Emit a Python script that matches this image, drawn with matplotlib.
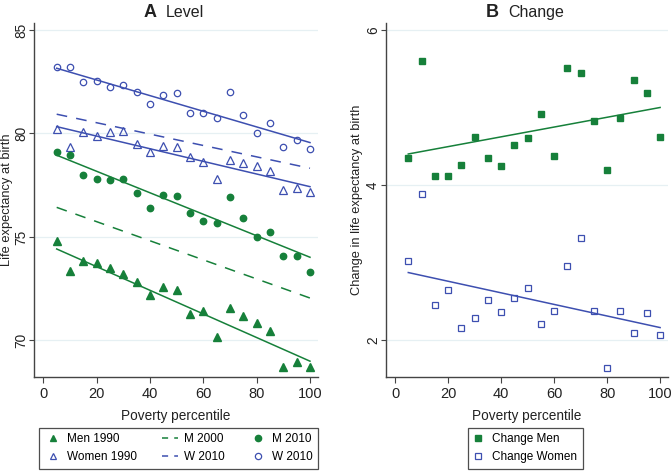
import numpy as np
import matplotlib
matplotlib.use("Agg")
from matplotlib import pyplot as plt
from matplotlib.lines import Line2D

plt.rcParams['font.family'] = ['Liberation Sans', 'DejaVu Sans']

# poverty percentiles
pct = [5, 10, 15, 20, 25, 30, 35, 40, 45, 50, 55, 60, 65, 70, 75, 80, 85, 90, 95, 100]

# panel A: life expectancy levels
men_1990 = [74.80, 73.37, 73.86, 73.74, 73.50, 73.21, 72.82, 72.20, 72.58, 72.42,
            71.27, 71.41, 70.18, 71.55, 71.16, 70.84, 70.44, 68.74, 68.94, 68.73]
women_1990 = [80.22, 79.36, 80.06, 79.90, 80.09, 80.14, 79.50, 79.11, 79.38, 79.33,
              78.85, 78.64, 77.80, 78.73, 78.57, 78.41, 78.17, 77.28, 77.38, 77.18]
men_2010 = [79.12, 78.96, 78.00, 77.82, 77.74, 77.80, 77.13, 76.42, 77.05, 77.00,
            76.14, 75.77, 75.66, 76.95, 75.93, 74.98, 75.26, 74.06, 74.10, 73.31]
women_2010 = [83.20, 83.22, 82.49, 82.52, 82.23, 82.36, 81.99, 81.43, 81.87, 81.94,
              81.00, 80.99, 80.73, 82.02, 80.91, 80.02, 80.52, 79.33, 79.69, 79.24]

# fitted lines (end points)
fit_x = [5, 100]
men_1990_fit = [74.42, 69.00]
women_1990_fit = [80.33, 77.43]
men_2000_fit = [76.43, 72.05]
women_2000_fit = [80.93, 78.32]
men_2010_fit = [78.95, 74.02]
women_2010_fit = [83.15, 79.56]

# panel B: change in life expectancy
change_men = [4.35, 5.60, 4.12, 4.12, 4.26, 4.62, 4.35, 4.25, 4.51, 4.61,
              4.92, 4.38, 5.51, 5.45, 4.82, 4.19, 4.86, 5.35, 5.19, 4.62]
change_women = [3.02, 3.88, 2.45, 2.65, 2.16, 2.28, 2.51, 2.36, 2.54, 2.67,
                2.21, 2.38, 2.96, 3.32, 2.38, 1.64, 2.38, 2.09, 2.35, 2.07]
change_men_fit = [4.40, 5.00]
change_women_fit = [2.87, 2.16]

green = '#16803a'
blue = '#3d4fb0'
grid_col = '#e6f0f3'
spine_col = '#444444'
txt_col = '#222222'

fig = plt.figure(figsize=(6.71, 4.72), dpi=100)
axA = fig.add_axes([0.0511, 0.2019, 0.4228, 0.75])
axB = fig.add_axes([0.5753, 0.2019, 0.4207, 0.75])


def style(ax, yticks):
    for s in ['top', 'right']:
        ax.spines[s].set_visible(False)
    for s in ['left', 'bottom']:
        ax.spines[s].set_color(spine_col)
        ax.spines[s].set_linewidth(1.0)
    ax.set_xticks([0, 20, 40, 60, 80, 100])
    ax.set_yticks(yticks)
    ax.tick_params(axis='x', colors=spine_col, labelcolor=txt_col,
                   labelsize=10.5, length=4, width=0.8)
    ax.tick_params(axis='y', colors=spine_col, labelcolor=txt_col,
                   labelsize=9.8, length=3.6, width=0.8, pad=0.8)
    for lab in ax.get_yticklabels():
        lab.set_rotation(90)
        lab.set_va('center')
    for y in yticks:
        ax.axhline(y, color=grid_col, lw=0.9, zorder=0)
    ax.set_xlabel('Poverty percentile', fontsize=9.8, color=txt_col, labelpad=6)


ms = 4.6
# panel A
axA.plot(pct, men_1990, '^', color=green, ms=ms + 0.6, mec=green, ls='none')
axA.plot(pct, women_1990, '^', mfc='none', mec=blue, ms=ms + 0.6, mew=0.9, ls='none')
axA.plot(pct, men_2010, 'o', color=green, ms=ms, ls='none')
axA.plot(pct, women_2010, 'o', mfc='none', mec=blue, ms=ms, mew=0.9, ls='none')
axA.plot(fit_x, men_1990_fit, color=green, lw=1.1)
axA.plot(fit_x, women_1990_fit, color=blue, lw=1.1)
axA.plot(fit_x, men_2010_fit, color=green, lw=1.1)
axA.plot(fit_x, women_2010_fit, color=blue, lw=1.1)
axA.plot(fit_x, men_2000_fit, color=green, lw=1.1, dashes=(7, 6))
axA.plot(fit_x, women_2000_fit, color=blue, lw=1.1, dashes=(7, 6))
axA.set_xlim(-3.4, 103)
axA.set_ylim(68.25, 85.35)
style(axA, [70, 75, 80, 85])
axA.set_ylabel('Life expectancy at birth', fontsize=9.3, color=txt_col)
axA.yaxis.set_label_coords((13.3 - 34.3) / 283.7, 0.5)

# panel B
axB.plot(pct, change_men, 's', color=green, ms=ms, ls='none')
axB.plot(pct, change_women, 's', mfc='none', mec=blue, ms=ms, mew=0.9, ls='none')
axB.plot(fit_x, change_men_fit, color=green, lw=1.1)
axB.plot(fit_x, change_women_fit, color=blue, lw=1.1)
axB.set_xlim(-3.4, 103.1)
axB.set_ylim(1.526, 6.094)
style(axB, [2, 4, 6])
axB.set_ylabel('Change in life expectancy at birth', fontsize=9.3, color=txt_col)
axB.yaxis.set_label_coords((363 - 386) / 282.3, 0.5)

# panel titles
ty = 1 - 17 / 472
fig.text(157 / 671, ty, 'A', fontsize=13, fontweight='bold', ha='right', va='baseline', color=txt_col)
fig.text(166 / 671, ty, 'Level', fontsize=11.5, ha='left', va='baseline', color=txt_col)
fig.text(499 / 671, ty, 'B', fontsize=13, fontweight='bold', ha='right', va='baseline', color=txt_col)
fig.text(508 / 671, ty, 'Change', fontsize=11.5, ha='left', va='baseline', color=txt_col)

# legends
hA = [
    Line2D([], [], marker='^', color=green, ls='none', ms=5),
    Line2D([], [], marker='^', mfc='none', mec=blue, ls='none', ms=5, mew=0.9),
    Line2D([], [], color=green, lw=1.1, dashes=(4, 4)),
    Line2D([], [], color=blue, lw=1.1, dashes=(4, 4)),
    Line2D([], [], marker='o', color=green, ls='none', ms=4.5),
    Line2D([], [], marker='o', mfc='none', mec=blue, ls='none', ms=4.5, mew=0.9),
]
lA = ['Men 1990', 'Women 1990', 'M 2000', 'W 2010', 'M 2010', 'W 2010']
legA = fig.legend(hA, lA, ncol=3, loc='upper left', bbox_to_anchor=(39 / 671, 1 - 428 / 472),
                  fontsize=8.5, frameon=True, fancybox=False, edgecolor='#222222',
                  handlelength=1.4, handletextpad=0.5, columnspacing=2.1,
                  labelspacing=0.5, borderpad=0.45, borderaxespad=0)
legA.get_frame().set_linewidth(0.9)

hB = [
    Line2D([], [], marker='s', color=green, ls='none', ms=4.5),
    Line2D([], [], marker='s', mfc='none', mec=blue, ls='none', ms=4.5, mew=0.9),
]
legB = fig.legend(hB, ['Change Men', 'Change Women'], loc='upper left',
                  bbox_to_anchor=(468 / 671, 1 - 428 / 472), fontsize=8.5, frameon=True,
                  fancybox=False, edgecolor='#222222', handlelength=0.8,
                  handletextpad=0.8, labelspacing=0.5, borderpad=0.45, borderaxespad=0)
legB.get_frame().set_linewidth(0.9)

fig.savefig('out.png', dpi=100)
